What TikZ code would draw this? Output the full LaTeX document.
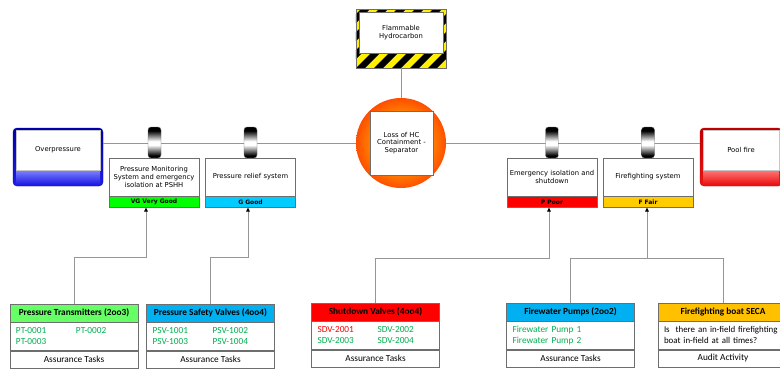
\documentclass[tikz,border=0pt]{standalone}
\usepackage{fontspec}
\setmainfont{DejaVu Sans}
\newfontfamily\carl{Carlito}
\usetikzlibrary{arrows.meta,calc}

\definecolor{linegrey}{RGB}{150,150,150}
\definecolor{boxgrey}{RGB}{110,110,110}
\definecolor{vg}{RGB}{0,255,0}
\definecolor{gd}{RGB}{0,204,255}
\definecolor{pr}{RGB}{255,0,0}
\definecolor{fr}{RGB}{255,204,0}
\definecolor{hgreen}{RGB}{102,255,102}
\definecolor{hblue}{RGB}{0,176,240}
\definecolor{hred}{RGB}{255,0,0}
\definecolor{hgold}{RGB}{255,192,0}
\definecolor{okgreen}{RGB}{0,176,80}
\definecolor{badred}{RGB}{255,0,0}
\definecolor{hazyellow}{RGB}{255,240,0}
\definecolor{opdark}{RGB}{0,0,170}
\definecolor{oplight}{RGB}{130,130,255}
\definecolor{opmid}{RGB}{30,30,230}
\definecolor{pfdark}{RGB}{190,0,0}
\definecolor{pflight}{RGB}{255,120,120}
\definecolor{pfmid}{RGB}{235,20,20}
\definecolor{fireinner}{RGB}{255,170,20}
\definecolor{firemid}{RGB}{255,135,0}
\definecolor{fireedge}{RGB}{255,60,0}
\definecolor{fireouter}{RGB}{255,20,0}

% shadings: a fire ball and a metallic roller
\pgfdeclareradialshading{fireball}{\pgfpoint{0bp}{0bp}}{%
  color(0bp)=(fireinner); color(16bp)=(firemid); color(28bp)=(fireedge); color(35bp)=(fireouter);
  color(50bp)=(fireouter)}
\pgfdeclareverticalshading{roller}{100bp}{%
  color(0bp)=(black); color(29bp)=(black); color(46bp)=(white); color(52bp)=(white);
  color(69bp)=(black); color(100bp)=(black)}

\newcommand\dgtxt{\fontsize{6.8}{7.8}\selectfont}
\newcommand\dgbold{\fontsize{6}{7}\selectfont\bfseries}
\newcommand\tbl{\carl\fontsize{9.3}{11}\selectfont}
\newcommand\tblb{\carl\bfseries\fontsize{9.3}{10}\selectfont}
\newcommand\tblq{\carl\fontsize{8.9}{11}\selectfont}

\begin{document}
\begin{tikzpicture}[x=1pt,y=-1pt,
  conn/.style={draw=linegrey, line width=1pt},
  arr/.style={conn, -{Triangle[length=4pt,width=3.6pt,color=black]}},
  frame/.style={rounded corners=4pt, minimum width=90pt, minimum height=58pt, inner sep=0pt},
  inwhite/.style={fill=white, draw=boxgrey!40, minimum width=84pt, minimum height=40pt, inner sep=1pt, font=\dgtxt},
  inband/.style={inner sep=0pt, minimum width=84pt, minimum height=14pt},
  roll/.style={minimum width=13pt, minimum height=31pt, inner sep=0pt, rounded corners=3pt,
    draw=boxgrey, shading=roller},
  barrier/.style={draw=boxgrey, fill=white, minimum width=90pt, minimum height=38pt, inner sep=1pt,
    text width=88pt, align=center, font=\dgtxt},
  rating/.style={draw=boxgrey, minimum width=90pt, minimum height=11pt, inner sep=0pt, font=\dgbold},
  hdr/.style={draw=boxgrey, minimum width=128pt, minimum height=18pt, inner sep=0pt, font=\tblb},
  body/.style={draw=boxgrey, fill=white, minimum width=128pt, minimum height=28pt, inner xsep=6pt,
    inner ysep=0pt, text width=116pt, align=left, font=\tbl},
  foot/.style={draw=boxgrey, fill=white, minimum width=128pt, minimum height=17pt, inner sep=0pt, font=\tbl}
]
\useasboundingbox (0,0) rectangle (780,370);
\fill[white] (0,0) rectangle (780,370);

% ---- hazard: striped frame with white label panel
\node[fill=hazyellow, draw=boxgrey, minimum width=90pt, minimum height=59pt, inner sep=0pt] (hazardframe) at (401,38.5) {};
\begin{scope}
  \clip (hazardframe.south west) rectangle (hazardframe.north east);
  \foreach \k in {-4,...,6}
    \fill[black] (356+\k*18,68) -- ++(9,0) -- ++(59,-59) -- ++(-9,0) -- cycle;
\end{scope}
\draw[boxgrey] (hazardframe.south west) rectangle (hazardframe.north east);
\node[fill=white, draw=boxgrey, minimum width=84pt, minimum height=41pt, inner sep=1pt, align=center, font=\dgtxt]
  (hazard) at (401,32.5) {Flammable\\Hydrocarbon};

% ---- top event
\node[circle, minimum size=90pt, inner sep=0pt, shading=fireball] (topcircle) at (401,143) {};
\node[fill=white, draw=boxgrey, minimum width=63pt, minimum height=64pt, inner sep=1pt, align=center, font=\dgtxt]
  (top) at (401.5,143) {Loss of HC\\Containment -\\Separator};

% ---- threat
\node[frame, draw=opdark, top color=opdark, bottom color=opmid] (threatframe) at (58,157) {};
\node[inband, top color=oplight, bottom color=opmid] (threatband) at (58,177) {};
\node[inwhite] (threat) at (58,150) {Overpressure};

% ---- consequence
\node[frame, draw=pfdark, top color=pfdark, bottom color=pfmid, minimum width=82pt] (poolframe) at (741,157) {};
\node[inband, top color=pflight, bottom color=pfmid, minimum width=76pt] (poolband) at (741,177) {};
\node[inwhite, minimum width=76pt] (pool) at (741,150) {Pool fire};

% ---- main line
\draw[conn] (hazardframe.south) -- (topcircle.north);
\draw[conn] (threatframe.east |- topcircle.center) -- (topcircle.west);
\draw[conn] (topcircle.east) -- (poolframe.west |- topcircle.center);

% ---- barrier elements on the line
\node[roll] (r1) at (154.5,142.5) {};
\node[roll] (r2) at (250.5,142.5) {};
\node[roll] (r3) at (552,142.5) {};
\node[roll] (r4) at (648,142.5) {};

% ---- barrier descriptions with ratings
\node[barrier] (b1) at (154,177) {Pressure Monitoring\\System and emergency\\isolation at PSHH};
\node[rating, fill=vg, anchor=north] (band1) at (b1.south) {VG Very Good};
\node[barrier] (b2) at (250.5,177) {Pressure relief system};
\node[rating, fill=gd, anchor=north] (band2) at (b2.south) {G Good};
\node[barrier] (b3) at (552,177) {Emergency isolation and\\shutdown};
\node[rating, fill=pr, anchor=north] (band3) at (b3.south) {P Poor};
\node[barrier] (b4) at (648,177) {Firefighting system};
\node[rating, fill=fr, anchor=north] (band4) at (b4.south) {F Fair};

% ---- supporting elements
\node[hdr, fill=hgreen] (h1) at (74,313) {Pressure Transmitters (2oo3)};
\node[body, anchor=north] (d1) at (h1.south) {\begin{tabular}{@{}p{60pt}@{}l@{}}
  \textcolor{okgreen}{PT-0001} & \textcolor{okgreen}{PT-0002}\\
  \textcolor{okgreen}{PT-0003} & \end{tabular}};
\node[foot, anchor=north] (f1) at (d1.south) {Assurance Tasks};

\node[hdr, fill=hblue] (h2) at (210.5,313) {Pressure Safety Valves (4oo4)};
\node[body, anchor=north] (d2) at (h2.south) {\begin{tabular}{@{}p{60pt}@{}l@{}}
  \textcolor{okgreen}{PSV-1001} & \textcolor{okgreen}{PSV-1002}\\
  \textcolor{okgreen}{PSV-1003} & \textcolor{okgreen}{PSV-1004}\end{tabular}};
\node[foot, anchor=north] (f2) at (d2.south) {Assurance Tasks};

\node[hdr, fill=hred] (h3) at (375.5,312) {Shutdown Valves (4oo4)};
\node[body, anchor=north] (d3) at (h3.south) {\begin{tabular}{@{}p{60pt}@{}l@{}}
  \textcolor{badred}{SDV-2001} & \textcolor{okgreen}{SDV-2002}\\
  \textcolor{okgreen}{SDV-2003} & \textcolor{okgreen}{SDV-2004}\end{tabular}};
\node[foot, anchor=north] (f3) at (d3.south) {Assurance Tasks};

\node[hdr, fill=hblue] (h4) at (570.5,312) {Firewater Pumps (2oo2)};
\node[body, anchor=north] (d4) at (h4.south) {\textcolor{okgreen}{Firewater Pump 1}\\
  \textcolor{okgreen}{Firewater Pump 2}};
\node[foot, anchor=north] (f4) at (d4.south) {Assurance Tasks};

\node[hdr, fill=hgold, minimum width=130pt] (h5) at (723,312) {Firefighting boat SECA};
\node[body, anchor=north west, minimum width=130pt, text width=128pt, font=\tblq] (d5) at (h5.south west)
  {Is\ \ there an in-field firefighting\\boat in-field at all times?};
\node[foot, anchor=north west, minimum width=130pt] (f5) at (d5.south west) {Audit Activity};

% ---- links from supporting elements to barriers
\coordinate (jl) at (0,257);
\coordinate (jr) at (0,258);
\coordinate (a1) at ([xshift=-8pt]band1.south);
\coordinate (a2) at ([xshift=-2.5pt]band2.south);
\coordinate (a3) at ([xshift=-3pt]band3.south);
\coordinate (a4) at ([xshift=-1pt]band4.south);
\draw[arr] (h1.north) |- (a1 |- jl) -- (a1);
\draw[arr] (h2.north) |- (a2 |- jl) -- (a2);
\draw[arr] (h3.north) |- (a3 |- jr) -- (a3);
\draw[conn] (h4.north) |- (h5.north |- jr) -- (h5.north);
\draw[arr] (a4 |- jr) -- (a4);
\end{tikzpicture}
\end{document}
